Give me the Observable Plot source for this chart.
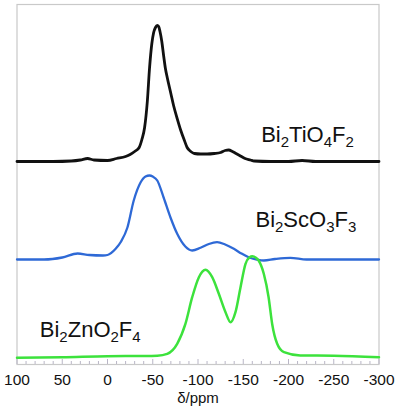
<!DOCTYPE html>
<html>
<head>
<meta charset="utf-8">
<script src="https://cdn.jsdelivr.net/npm/d3@7"></script>
<script src="https://cdn.jsdelivr.net/npm/@observablehq/plot@0.6"></script>
<style>
  html, body { margin: 0; padding: 0; background: #fff; }
  svg { display: block; font-family: "Liberation Sans", Arial, sans-serif; }
</style>
</head>
<body>
<div id="chart"></div>
<script>
// Series names and vertical offsets (stacked spectra)
const names = ["Bi2TiO4F2", "Bi2ScO3F3", "Bi2ZnO2F4"];
const colors = ["#111111", "#2e69d6", "#3ce23c"];
const widths = [2.8, 2.3, 2.5];
const offsets = [203, 105, 7.3];

// Bi2TiO4F2 (black)
const tiPpm = [100, 60, 40, 30, 22, 15, 0, -10, -20, -25, -30, -35, -38, -41, -44, -46.5, -49, -51, -53, -55, -56.5, -58, -60, -62, -64, -66, -70, -73, -77, -81, -85, -88, -92, -96, -103, -110, -118, -125, -130, -134, -138, -142, -146, -152, -158, -162, -180, -200, -215, -230, -300];
const tiInt = [0, 0, 0.5, 1.5, 3, 1.5, 1, 3, 5, 7, 10, 14, 22, 34, 60, 94, 118, 129, 134, 136, 135, 130, 120, 106, 93, 84, 68, 56, 43, 31, 21, 14, 10, 8, 7.5, 7.5, 8, 9, 11, 11.5, 10, 8, 6, 3, 1.5, 0.5, 0, 0, 1, 0, 0];

// Bi2ScO3F3 (blue)
const scPpm = [100, 70, 50, 33, 20, 5, 0, -9, -15, -22, -29, -36.5, -42, -46.4, -50, -55, -62, -69.6, -77, -86, -93.6, -102.8, -112, -121, -130, -139.6, -148, -156, -165, -172.7, -185, -202, -220, -300];
const scInt = [0, 0, 2, 6, 4.5, 4, 4.5, 10.7, 18, 32, 59, 77, 83, 84, 83, 79, 62, 42, 25.7, 13, 9, 11.7, 15.5, 17.3, 15, 10.7, 6, 2.3, 0, -1, 0.5, 1.7, 0, 0];

// Bi2ZnO2F4 (green)
const znPpm = [100, 50, 0, -40, -55, -66, -77, -86, -93.6, -101, -108.3, -115.7, -123, -130.4, -136, -141.4, -147, -152.5, -157, -160, -164, -167, -172.7, -178, -182, -187.5, -195, -213, -250, -300];
const znInt = [-0.5, 0, 1, 1.2, 1.5, 3.4, 13.4, 33, 60, 80, 87.4, 80, 63.4, 45, 35, 45, 70, 93.4, 100, 101, 99.5, 96.7, 83.4, 60, 33, 13.4, 5, 1.7, 1.5, 0];

// Axis ticks
const majorTicks = [100, 50, 0, -50, -100, -150, -200, -250, -300];
const minorTicks = [90, 80, 70, 60, 40, 30, 20, 10, -10, -20, -30, -40, -60, -70, -80, -90, -110, -120, -130, -140, -160, -170, -180, -190, -210, -220, -230, -240, -260, -270, -280, -290];

// Label positions (ppm of left edge, height of baseline)
const labelX = [-169.8, -163.5, 74.8];
const labelY = [222.3, 137.3, 27.3];

const ppmArrays = [tiPpm, scPpm, znPpm];
const intArrays = [tiInt, scInt, znInt];
const rows = names.flatMap((name, s) =>
  ppmArrays[s].map((p, i) => ({name, ppm: p, y: offsets[s] + intArrays[s][i]}))
);
const labels = names.map((name, s) => ({name, x: labelX[s], y: labelY[s]}));

const W = 399, H = 417;
const plot = Plot.plot({
  width: W,
  height: H,
  marginLeft: 16.5,
  marginRight: 20.5,
  marginTop: 4,
  marginBottom: 53,
  style: {background: "#fff", fontFamily: "'Liberation Sans', Arial, sans-serif"},
  x: {domain: [100, -300]},
  y: {domain: [0, 360], axis: null},
  marks: [
    Plot.frame({stroke: "#c9c9c9", strokeWidth: 1.2}),
    Plot.ruleX(minorTicks, {y1: 0, y2: 3, stroke: "#b9b6c6", strokeWidth: 1}),
    Plot.ruleX(majorTicks, {y1: 0, y2: 5, stroke: "#b9b6c6", strokeWidth: 1}),
    ...names.map((name, s) =>
      Plot.line(rows.filter(d => d.name === name), {
        x: "ppm", y: "y", stroke: colors[s], strokeWidth: widths[s], curve: "monotone-x"
      })
    ),
    Plot.axisX({
      ticks: majorTicks, tickSize: 0, tickPadding: 9, fontSize: 15.5,
      tickFormat: d => String(d), label: null, fill: "#111"
    }),
    Plot.text(["δ/ppm"], {frameAnchor: "bottom", dy: 38, fontSize: 15, fill: "#111", lineAnchor: "bottom"}),
    Plot.text(labels, {x: "x", y: "y", text: "name", textAnchor: "start", lineAnchor: "bottom", fontSize: 22, fill: "#111"})
  ]
});

// Format chemical formulas with subscript digits
d3.select(plot).selectAll("text").each(function() {
  const t = this.textContent;
  if (!names.includes(t)) return;
  const el = d3.select(this);
  el.text(null);
  const parts = t.match(/[A-Za-z]+|\d+/g);
  let sub = false;
  parts.forEach(p => {
    const isNum = /^\d+$/.test(p);
    const ts = el.append("tspan").text(p);
    if (isNum && !sub) { ts.attr("dy", "5").attr("font-size", 15); sub = true; }
    else if (isNum) { ts.attr("font-size", 15); }
    else if (sub) { ts.attr("dy", "-5"); sub = false; }
  });
});

document.getElementById("chart").appendChild(plot);
</script>
</body>
</html>
